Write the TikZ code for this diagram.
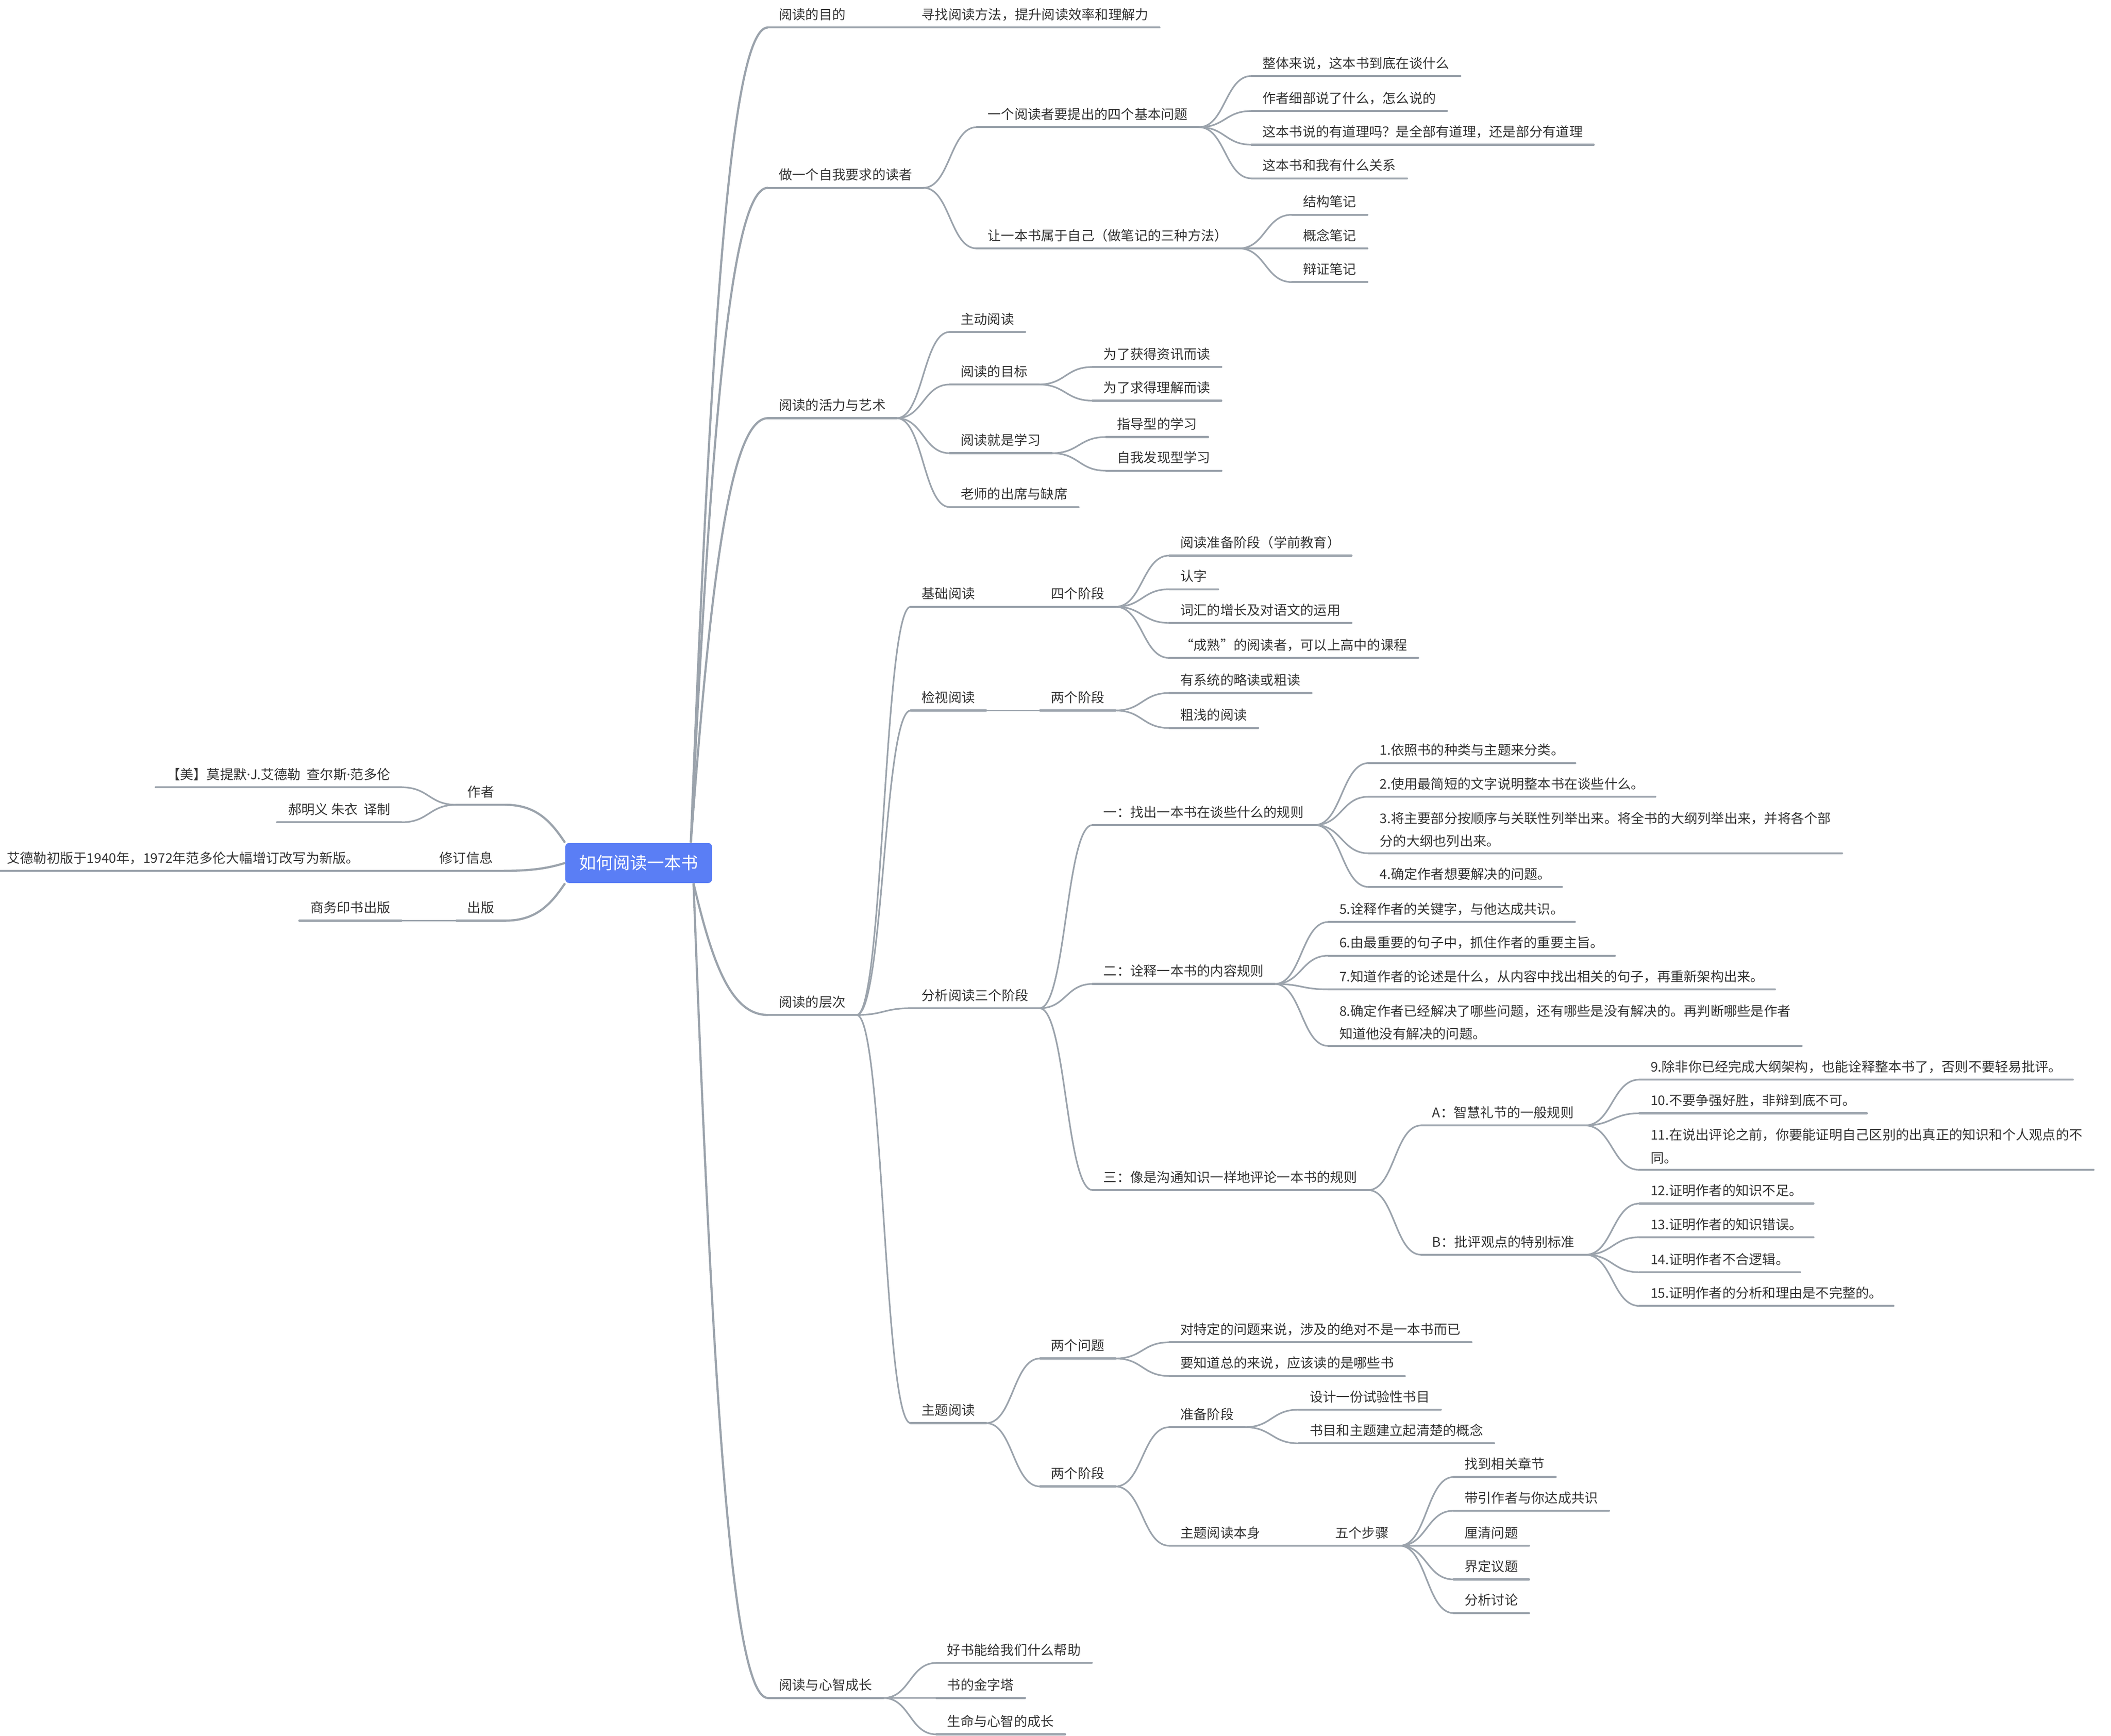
\documentclass[tikz,border=0pt]{standalone}
\usepackage{fontspec}
\setmainfont{Noto Sans CJK SC}
\newfontfamily\latinfont{Noto Sans}
\usetikzlibrary{calc,positioning}

\definecolor{wire}{RGB}{155,163,172}
\definecolor{ink}{RGB}{51,51,51}
\definecolor{hub}{RGB}{90,126,245}
\newcommand\mdot{{\latinfont ·}}

\begin{document}
\begin{tikzpicture}[x=1pt,y=-1pt,
    uline/.style={draw=wire,line width=1.5pt,line cap=round,to path={-- (\tikztotarget)}},
    link/.style={draw=wire,line width=1.2pt,to path={let \p1=(\tikztostart),\p2=(\tikztotarget) in
      .. controls ({0.5*\x1+0.5*\x2},\y1) and ({0.5*\x1+0.5*\x2},\y2) .. (\tikztotarget)}},
    trunk/.style={draw=wire,line width=1.6pt,to path={let \p1=(\tikztostart),\p2=(\tikztotarget) in
      .. controls ({0.75*\x1+0.25*\x2},{0.4*\y1+0.6*\y2}) and ({0.5*\x1+0.5*\x2},\y2) .. (\tikztotarget)}}]
  \tikzstyle{tbase}=[font=\fontsize{9.9}{17}\selectfont,text=ink,inner xsep=8pt,inner ysep=4.2pt,
      text depth=1.5pt,yshift=-9.4pt,
      append after command={(\tikzlastnode.south west) edge[uline] (\tikzlastnode.south east)}]
  \tikzstyle{topic}=[tbase,anchor=south west,xshift=-8pt]
  \tikzstyle{ltopic}=[tbase,anchor=south east,xshift=8pt]
  \tikzstyle{mtopic}=[topic,align=left,text depth={}]
  \tikzstyle{hubbox}=[fill=hub,text=white,rounded corners=3pt,inner sep=0pt,
      minimum width=109pt,minimum height=29.8pt,font=\fontsize{12.6}{15}\selectfont]

  \useasboundingbox[fill=white] (0,0) rectangle (1567,1288.6);

  \node[hubbox] (book) at (474.1,640.6) {如何阅读一本书};

  % left side
  \node[ltopic] (au)   at (367,588) {作者};
  \node[ltopic] (au1)  at (290,575) {【美】莫提默\mdot J.艾德勒~~查尔斯\mdot 范多伦};
  \node[ltopic] (au2)  at (290,601) {郝明义 朱衣~~译制};
  \node[ltopic] (rev)  at (366,637) {修订信息};
  \node[ltopic] (rev1) at (267,637) {艾德勒初版于1940年，1972年范多伦大幅增订改写为新版。};
  \node[ltopic] (pub)  at (367,674) {出版};
  \node[ltopic] (pub1) at (290,674) {商务印书出版};

  % right side
  \node[topic] (g)   at (578,11)  {阅读的目的};
  \node[topic] (g1)  at (684,11)  {寻找阅读方法，提升阅读效率和理解力};

  \node[topic] (s)   at (578,130) {做一个自我要求的读者};
  \node[topic] (s1)  at (733,85)  {一个阅读者要提出的四个基本问题};
  \node[topic] (s11) at (937,47)  {整体来说，这本书到底在谈什么};
  \node[topic] (s12) at (937,73)  {作者细部说了什么，怎么说的};
  \node[topic] (s13) at (937,98)  {这本书说的有道理吗？是全部有道理，还是部分有道理};
  \node[topic] (s14) at (937,123) {这本书和我有什么关系};
  \node[topic] (s2)  at (733,175) {让一本书属于自己（做笔记的三种方法）};
  \node[topic] (s21) at (967,150) {结构笔记};
  \node[topic] (s22) at (967,175) {概念笔记};
  \node[topic] (s23) at (967,200) {辩证笔记};

  \node[topic] (v)   at (578,301) {阅读的活力与艺术};
  \node[topic] (v1)  at (713,237) {主动阅读};
  \node[topic] (v2)  at (713,276) {阅读的目标};
  \node[topic] (v21) at (819,263) {为了获得资讯而读};
  \node[topic] (v22) at (819,288) {为了求得理解而读};
  \node[topic] (v3)  at (713,327) {阅读就是学习};
  \node[topic] (v31) at (829,315) {指导型的学习};
  \node[topic] (v32) at (829,340) {自我发现型学习};
  \node[topic] (v4)  at (713,367) {老师的出席与缺席};

  \node[topic] (l)    at (578,744) {阅读的层次};
  \node[topic] (l1)   at (684,441) {基础阅读};
  \node[topic] (l11)  at (780,441) {四个阶段};
  \node[topic] (l111) at (876,403) {阅读准备阶段（学前教育）};
  \node[topic] (l112) at (876,428) {认字};
  \node[topic] (l113) at (876,453) {词汇的增长及对语文的运用};
  \node[topic] (l114) at (876,479) {“成熟”的阅读者，可以上高中的课程};
  \node[topic] (l2)   at (684,518) {检视阅读};
  \node[topic] (l21)  at (780,518) {两个阶段};
  \node[topic] (l211) at (876,505) {有系统的略读或粗读};
  \node[topic] (l212) at (876,531) {粗浅的阅读};

  \node[topic] (l3)   at (684,739) {分析阅读三个阶段};
  \node[topic] (l31)  at (819,603) {一：找出一本书在谈些什么的规则};
  \node[topic]  (k1)  at (1024,557) {1.依照书的种类与主题来分类。};
  \node[topic]  (k2)  at (1024,582) {2.使用最简短的文字说明整本书在谈些什么。};
  \node[mtopic] (k3)  at (1024,624) {3.将主要部分按顺序与关联性列举出来。将全书的大纲列举出来，并将各个部\\分的大纲也列出来。};
  \node[topic]  (k4)  at (1024,649) {4.确定作者想要解决的问题。};
  \node[topic] (l32)  at (819,721) {二：诠释一本书的内容规则};
  \node[topic]  (k5)  at (994,675) {5.诠释作者的关键字，与他达成共识。};
  \node[topic]  (k6)  at (994,700) {6.由最重要的句子中，抓住作者的重要主旨。};
  \node[topic]  (k7)  at (994,725) {7.知道作者的论述是什么，从内容中找出相关的句子，再重新架构出来。};
  \node[mtopic] (k8)  at (994,767) {8.确定作者已经解决了哪些问题，还有哪些是没有解决的。再判断哪些是作者\\知道他没有解决的问题。};
  \node[topic] (l33)  at (819,874) {三：像是沟通知识一样地评论一本书的规则};
  \node[topic] (l331) at (1063,826) {A：智慧礼节的一般规则};
  \node[topic]  (k9)  at (1225,792) {9.除非你已经完成大纲架构，也能诠释整本书了，否则不要轻易批评。};
  \node[topic]  (k10) at (1225,817) {10.不要争强好胜，非辩到底不可。};
  \node[mtopic] (k11) at (1225,859) {11.在说出评论之前，你要能证明自己区别的出真正的知识和个人观点的不\\同。};
  \node[topic] (l332) at (1063,922) {B：批评观点的特别标准};
  \node[topic]  (k12) at (1225,884) {12.证明作者的知识不足。};
  \node[topic]  (k13) at (1225,909) {13.证明作者的知识错误。};
  \node[topic]  (k14) at (1225,935) {14.证明作者不合逻辑。};
  \node[topic]  (k15) at (1225,960) {15.证明作者的分析和理由是不完整的。};

  \node[topic] (l4)    at (684,1047) {主题阅读};
  \node[topic] (l41)   at (780,999)  {两个问题};
  \node[topic] (l411)  at (876,987)  {对特定的问题来说，涉及的绝对不是一本书而已};
  \node[topic] (l412)  at (876,1012) {要知道总的来说，应该读的是哪些书};
  \node[topic] (l42)   at (780,1094) {两个阶段};
  \node[topic] (l421)  at (876,1050) {准备阶段};
  \node[topic] (l4211) at (972,1037) {设计一份试验性书目};
  \node[topic] (l4212) at (972,1062) {书目和主题建立起清楚的概念};
  \node[topic] (l422)  at (876,1138) {主题阅读本身};
  \node[topic] (l4221) at (991,1138) {五个步骤};
  \node[topic] (st1)   at (1087,1087) {找到相关章节};
  \node[topic] (st2)   at (1087,1112) {带引作者与你达成共识};
  \node[topic] (st3)   at (1087,1138) {厘清问题};
  \node[topic] (st4)   at (1087,1163) {界定议题};
  \node[topic] (st5)   at (1087,1188) {分析讨论};

  \node[topic] (h)  at (578,1251) {阅读与心智成长};
  \node[topic] (h1) at (703,1225) {好书能给我们什么帮助};
  \node[topic] (h2) at (703,1251) {书的金字塔};
  \node[topic] (h3) at (703,1278) {生命与心智的成长};

  % main branches
  \coordinate (up)   at ([xshift=-16pt]book.north east);
  \coordinate (down) at ([xshift=-14pt]book.south east);
  \path
  (up) edge[trunk] (g.south west)
  (up) edge[trunk] (s.south west)
  (up) edge[trunk] (v.south west)
  (down) edge[trunk] (l.south west)
  (down) edge[trunk] (h.south west)
  (book.north west) edge[trunk] (au.south east)
  (book.west) edge[trunk] (rev.south east)
  (book.south west) edge[trunk] (pub.south east);

  % sub branches
  \path
  (au.south west) edge[link] (au1.south east)
  (au.south west) edge[link] (au2.south east)
  (rev.south west) edge[link] (rev1.south east)
  (pub.south west) edge[link] (pub1.south east)
  (g.south east) edge[link] (g1.south west)
  (s.south east) edge[link] (s1.south west)
  (s.south east) edge[link] (s2.south west)
  (s1.south east) edge[link] (s11.south west)
  (s1.south east) edge[link] (s12.south west)
  (s1.south east) edge[link] (s13.south west)
  (s1.south east) edge[link] (s14.south west)
  (s2.south east) edge[link] (s21.south west)
  (s2.south east) edge[link] (s22.south west)
  (s2.south east) edge[link] (s23.south west)
  (v.south east) edge[link] (v1.south west)
  (v.south east) edge[link] (v2.south west)
  (v.south east) edge[link] (v3.south west)
  (v.south east) edge[link] (v4.south west)
  (v2.south east) edge[link] (v21.south west)
  (v2.south east) edge[link] (v22.south west)
  (v3.south east) edge[link] (v31.south west)
  (v3.south east) edge[link] (v32.south west)
  (l.south east) edge[link] (l1.south west)
  (l.south east) edge[link] (l2.south west)
  (l.south east) edge[link] (l3.south west)
  (l.south east) edge[link] (l4.south west)
  (l1.south east) edge[link] (l11.south west)
  (l11.south east) edge[link] (l111.south west)
  (l11.south east) edge[link] (l112.south west)
  (l11.south east) edge[link] (l113.south west)
  (l11.south east) edge[link] (l114.south west)
  (l2.south east) edge[link] (l21.south west)
  (l21.south east) edge[link] (l211.south west)
  (l21.south east) edge[link] (l212.south west)
  (l3.south east) edge[link] (l31.south west)
  (l3.south east) edge[link] (l32.south west)
  (l3.south east) edge[link] (l33.south west)
  (l31.south east) edge[link] (k1.south west)
  (l31.south east) edge[link] (k2.south west)
  (l31.south east) edge[link] (k3.south west)
  (l31.south east) edge[link] (k4.south west)
  (l32.south east) edge[link] (k5.south west)
  (l32.south east) edge[link] (k6.south west)
  (l32.south east) edge[link] (k7.south west)
  (l32.south east) edge[link] (k8.south west)
  (l33.south east) edge[link] (l331.south west)
  (l33.south east) edge[link] (l332.south west)
  (l331.south east) edge[link] (k9.south west)
  (l331.south east) edge[link] (k10.south west)
  (l331.south east) edge[link] (k11.south west)
  (l332.south east) edge[link] (k12.south west)
  (l332.south east) edge[link] (k13.south west)
  (l332.south east) edge[link] (k14.south west)
  (l332.south east) edge[link] (k15.south west)
  (l4.south east) edge[link] (l41.south west)
  (l4.south east) edge[link] (l42.south west)
  (l41.south east) edge[link] (l411.south west)
  (l41.south east) edge[link] (l412.south west)
  (l42.south east) edge[link] (l421.south west)
  (l42.south east) edge[link] (l422.south west)
  (l421.south east) edge[link] (l4211.south west)
  (l421.south east) edge[link] (l4212.south west)
  (l422.south east) edge[link] (l4221.south west)
  (l4221.south east) edge[link] (st1.south west)
  (l4221.south east) edge[link] (st2.south west)
  (l4221.south east) edge[link] (st3.south west)
  (l4221.south east) edge[link] (st4.south west)
  (l4221.south east) edge[link] (st5.south west)
  (h.south east) edge[link] (h1.south west)
  (h.south east) edge[link] (h2.south west)
  (h.south east) edge[link] (h3.south west);
\end{tikzpicture}
\end{document}
